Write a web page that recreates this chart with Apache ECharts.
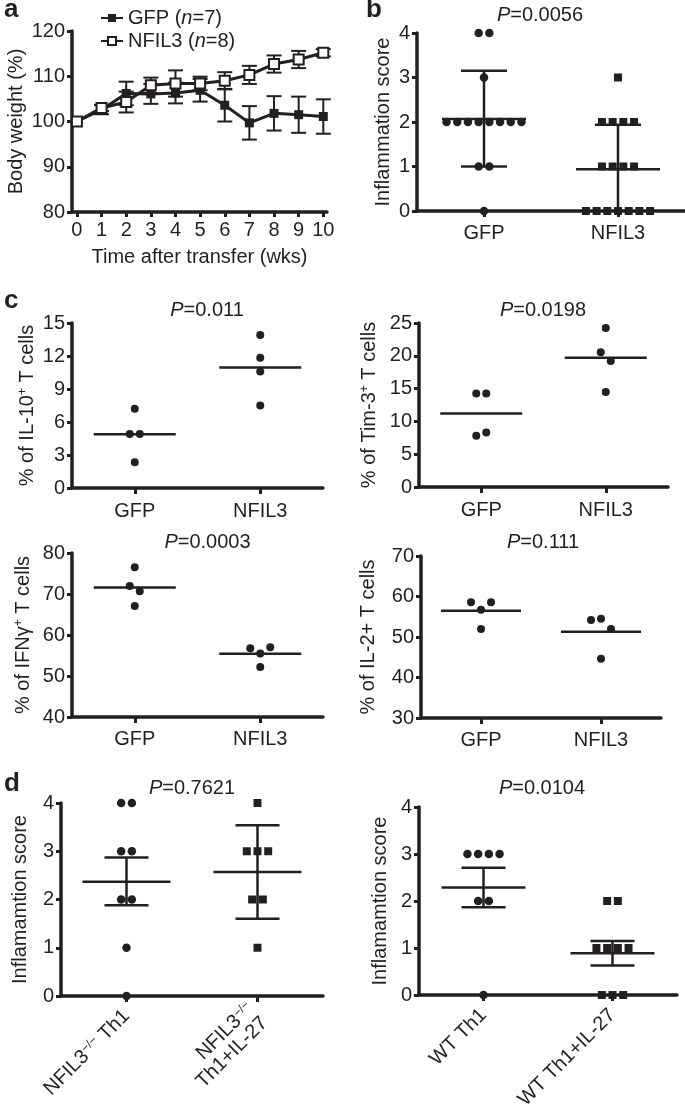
<!DOCTYPE html>
<html><head><meta charset="utf-8">
<script src="https://cdn.jsdelivr.net/npm/echarts@6/dist/echarts.min.js"></script>
<style>html,body{margin:0;padding:0;background:#fff}#c{width:685px;height:1112px}</style>
</head><body><div id="c"></div>
<script>
// ---------- data ----------
const weeks = [0,1,2,3,4,5,6,7,8,9,10];
const weekTicks = [0,1,2,3,4,5,6,7,8,9,10];
const gfpWeight = [100, 102.6, 106.2, 106.1, 106.3, 106.9, 103.6, 99.7, 101.8, 101.5, 101.1];
const gfpWeightErr = [0, 1.0, 2.6, 2.2, 2.3, 2.5, 3.6, 3.7, 3.8, 4.0, 3.8];
const nfil3Weight = [100, 103.0, 104.3, 108.0, 108.4, 108.4, 109.0, 110.3, 112.7, 113.7, 115.2];
const nfil3WeightErr = [0, 0.7, 2.3, 1.7, 2.9, 1.5, 1.9, 2.0, 1.9, 1.9, 0.8];
const legendLabels = {GFP: ['GFP (', '=7)'], NFIL3: ['NFIL3 (', '=8)']};

const groupCats = ['GFP', 'NFIL3'];
const bGfp = [4,4,3,2,2,2,2,2,2,2,2,1,1,0];
const bNfil3 = [3,2,2,2,2,1,1,1,1,0,0,0,0,0,0,0];
const bMean = [2.07, 0.94];
const bLow = [1.0, 0];
const bHigh = [3.15, 1.94];

const il10Gfp = [7.2, 4.9, 4.9, 2.35];
const il10Nfil3 = [13.9, 11.85, 10.6, 7.5];
const il10Mean = [4.88, 10.95];

const tim3Gfp = [14.25, 14.25, 7.8, 8.3];
const tim3Nfil3 = [24.25, 20.55, 19.2, 14.5];
const tim3Mean = [11.2, 19.7];

const ifngGfp = [76.5, 71.95, 70.65, 67.1];
const ifngNfil3 = [56.75, 55.5, 57.0, 52.2];
const ifngMean = [71.6, 55.4];

const il2Gfp = [58.6, 56.7, 58.6, 52.0];
const il2Nfil3 = [54.2, 54.5, 52.0, 44.6];
const il2Mean = [56.5, 51.3];

const dLeftCats = ['{t|NFIL3}{s|−/−}{t| Th1}', '{t|NFIL3}{s|−/−}\n{t|Th1+IL-27}'];
const dLeftA = [4,4,3,3,2,2,1,0];
const dLeftB = [4,3,3,3,2,2,1];
const dLeftMean = [2.37, 2.57];
const dLeftLow = [1.88, 1.6];
const dLeftHigh = [2.87, 3.54];

const dRightCats = ['WT Th1', 'WT Th1+IL-27'];
const dRightA = [3,3,3,3,2,2,0];
const dRightB = [2,2,1,1,1,1,0,0,0];
const dRightMean = [2.29, 0.89];
const dRightLow = [1.87, 0.63];
const dRightHigh = [2.71, 1.15];

const pValues = ['0.0056', '0.011', '0.0198', '0.0003', '0.111', '0.7621', '0.0104'];

// ---------- style ----------
const INK = '#231f20';
const FONT = '"Liberation Sans", Arial, Helvetica, sans-serif';

function rich(fs) {
  return {
    t: {fontFamily: FONT, fontSize: fs, color: INK},
    i: {fontFamily: FONT, fontSize: fs, color: INK, fontStyle: 'italic'},
    s: {fontFamily: FONT, fontSize: Math.round(fs * 0.62), color: INK, verticalAlign: 'top'}
  };
}

function yAxis(gi, min, max, interval, name, gap, fs) {
  return {
    type: 'value', gridIndex: gi, min: min, max: max, interval: interval,
    name: name, nameLocation: 'middle', nameGap: gap, nameRotate: 90,
    nameTextStyle: {fontFamily: FONT, fontSize: fs, color: INK, rich: rich(fs)},
    axisLine: {show: true, onZero: false, lineStyle: {color: INK, width: 3.5}},
    axisTick: {show: true, length: 5, lineStyle: {color: INK, width: 3}},
    axisLabel: {fontFamily: FONT, fontSize: fs, color: INK, margin: 7},
    splitLine: {show: false}
  };
}
function catAxis(gi, cats, fs, margin, rotate) {
  return {
    type: 'category', gridIndex: gi, data: cats, boundaryGap: true,
    axisLine: {show: true, onZero: false, lineStyle: {color: INK, width: 3.5}},
    axisTick: {show: true, alignWithLabel: true, length: 6, lineStyle: {color: INK, width: 3}},
    axisLabel: {fontFamily: FONT, fontSize: fs, color: INK, margin: margin, rotate: rotate || 0,
      interval: 0, rich: rich(fs)},
    splitLine: {show: false}
  };
}

function swarm(vals, range, spacing) {
  const idx = vals.map((v, i) => i).sort((a, b) => vals[b] - vals[a]);
  const groups = [];
  let cur = [idx[0]];
  for (let k = 1; k < idx.length; k++) {
    if (Math.abs(vals[idx[k - 1]] - vals[idx[k]]) < 0.06 * range) cur.push(idx[k]);
    else { groups.push(cur); cur = [idx[k]]; }
  }
  groups.push(cur);
  const off = new Array(vals.length).fill(0);
  groups.forEach(g => {
    g.sort((a, b) => a - b);
    g.forEach((i, j) => { off[i] = (j - (g.length - 1) / 2) * spacing; });
  });
  return off;
}

function dots(gi, cat, vals, range, symbol, size, spacing) {
  const off = swarm(vals, range, spacing);
  return {
    type: 'scatter', xAxisIndex: gi, yAxisIndex: gi, symbol: symbol, symbolSize: size, z: 4,
    itemStyle: {color: INK, opacity: 1}, silent: true,
    data: vals.map((v, i) => ({value: [cat, v], symbolOffset: [off[i], 0]}))
  };
}

function summary(gi, means, lows, highs, meanHalf, capHalf) {
  return {
    type: 'custom', xAxisIndex: gi, yAxisIndex: gi, z: 3, silent: true,
    encode: {x: 0, y: 1},
    data: means.map((m, i) => [i, m, lows ? lows[i] : m, highs ? highs[i] : m]),
    renderItem: function (params, api) {
      const c = api.coord([api.value(0), api.value(1)]);
      const lo = api.coord([api.value(0), api.value(2)]);
      const hi = api.coord([api.value(0), api.value(3)]);
      const st = {stroke: INK, lineWidth: 2.5};
      const ch = [{type: 'line', shape: {x1: c[0] - meanHalf, y1: c[1], x2: c[0] + meanHalf, y2: c[1]}, style: st}];
      if (lows) {
        ch.push({type: 'line', shape: {x1: c[0], y1: lo[1], x2: c[0], y2: hi[1]}, style: st});
        ch.push({type: 'line', shape: {x1: c[0] - capHalf, y1: hi[1], x2: c[0] + capHalf, y2: hi[1]}, style: st});
        if (api.value(2) > 0)
          ch.push({type: 'line', shape: {x1: c[0] - capHalf, y1: lo[1], x2: c[0] + capHalf, y2: lo[1]}, style: st});
      }
      return {type: 'group', children: ch};
    }
  };
}

function errBars(means, errs) {
  return {
    type: 'custom', xAxisIndex: 0, yAxisIndex: 0, z: 1, silent: true,
    encode: {x: 0, y: 1},
    data: weeks.map((w, i) => [w, means[i], errs[i]]),
    renderItem: function (params, api) {
      if (api.value(2) <= 0) return {type: 'group', children: []};
      const top = api.coord([api.value(0), api.value(1) + api.value(2)]);
      const bot = api.coord([api.value(0), api.value(1) - api.value(2)]);
      const st = {stroke: INK, lineWidth: 2};
      const h = 7.5;
      return {type: 'group', children: [
        {type: 'line', shape: {x1: top[0], y1: top[1], x2: bot[0], y2: bot[1]}, style: st},
        {type: 'line', shape: {x1: top[0] - h, y1: top[1], x2: top[0] + h, y2: top[1]}, style: st},
        {type: 'line', shape: {x1: bot[0] - h, y1: bot[1], x2: bot[0] + h, y2: bot[1]}, style: st}
      ]};
    }
  };
}

function label(txt, x, y) {
  return {type: 'text', x: x, y: y, silent: true,
    style: {text: txt, fontFamily: FONT, fontSize: 26, fontWeight: 'bold', fill: INK, align: 'left', verticalAlign: 'middle'}};
}
function ptext(p, x, y, fs) {
  return {type: 'text', x: x, y: y, silent: true,
    style: {text: '{i|P}{t|=' + p + '}', fontFamily: FONT, fontSize: fs, fill: INK, align: 'center', verticalAlign: 'middle', rich: rich(fs)}};
}

const chart = echarts.init(document.getElementById('c'), null, {renderer: 'canvas'});
const FS = 20;

chart.setOption({
  animation: false,
  backgroundColor: '#fff',
  grid: [
    {left: 72, top: 31, width: 255, height: 181},
    {left: 417, top: 33, width: 268, height: 178},
    {left: 72, top: 323, width: 251, height: 165},
    {left: 419, top: 323, width: 249, height: 164},
    {left: 72, top: 553, width: 251, height: 164},
    {left: 421, top: 556, width: 240, height: 162},
    {left: 61, top: 803, width: 262, height: 193},
    {left: 419, top: 807, width: 258, height: 189}
  ],
  legend: {
    orient: 'vertical', left: 95, top: 3, itemGap: 3, itemWidth: 22, itemHeight: 10,
    data: ['GFP', 'NFIL3'],
    formatter: n => '{t|' + legendLabels[n][0] + '}{i|n}{t|' + legendLabels[n][1] + '}',
    textStyle: {fontFamily: FONT, fontSize: FS, color: INK, rich: rich(FS)}
  },
  xAxis: [
    {type: 'value', gridIndex: 0, min: -0.2, max: 10.15,
      name: 'Time after transfer (wks)', nameLocation: 'middle', nameGap: 35,
      nameTextStyle: {fontFamily: FONT, fontSize: FS, color: INK},
      axisLine: {show: true, onZero: false, lineStyle: {color: INK, width: 3.5}},
      axisTick: {show: true, length: 5, customValues: weekTicks, lineStyle: {color: INK, width: 3}},
      axisLabel: {fontFamily: FONT, fontSize: FS, color: INK, margin: 8, customValues: weekTicks},
      splitLine: {show: false}},
    catAxis(1, groupCats, FS, 12),
    catAxis(2, groupCats, FS, 13),
    catAxis(3, groupCats, FS, 13),
    catAxis(4, groupCats, FS, 12),
    catAxis(5, groupCats, FS, 12),
    catAxis(6, dLeftCats, FS, 17, 45),
    catAxis(7, dRightCats, FS, 17, 45)
  ],
  yAxis: [
    yAxis(0, 80, 120, 10, 'Body weight (%)', 46, FS),
    yAxis(1, 0, 4, 1, 'Inflammation score', 24, FS),
    yAxis(2, 0, 15, 3, '{t|% of IL-10}{s|+}{t| T cells}', 35, FS),
    yAxis(3, 0, 25, 5, '{t|% of Tim-3}{s|+}{t| T cells}', 40, FS),
    yAxis(4, 40, 80, 10, '{t|% of IFNγ}{s|+}{t| T cells}', 39, FS),
    yAxis(5, 30, 70, 10, '% of IL-2+ T cells', 43, FS),
    yAxis(6, 0, 4, 1, 'Inflamamtion score', 31, FS),
    yAxis(7, 0, 4, 1, 'Inflamamtion score', 29, FS)
  ],
  series: [
    errBars(gfpWeight, gfpWeightErr),
    errBars(nfil3Weight, nfil3WeightErr),
    {name: 'GFP', type: 'line', xAxisIndex: 0, yAxisIndex: 0, z: 2,
      data: weeks.map((w, i) => [w, gfpWeight[i]]),
      symbol: 'rect', symbolSize: 9, showSymbol: true,
      itemStyle: {color: INK}, lineStyle: {color: INK, width: 3}},
    {name: 'NFIL3', type: 'line', xAxisIndex: 0, yAxisIndex: 0, z: 3,
      data: weeks.map((w, i) => [w, nfil3Weight[i]]),
      symbol: 'rect', symbolSize: 10, showSymbol: true,
      itemStyle: {color: '#fff', borderColor: INK, borderWidth: 2}, lineStyle: {color: INK, width: 3}},

    summary(1, bMean, bLow, bHigh, 42, 23),
    dots(1, 0, bGfp, 4, 'circle', 8.5, 10.7),
    dots(1, 1, bNfil3, 4, 'rect', 8, 10.7),

    summary(2, il10Mean, null, null, 41),
    dots(2, 0, il10Gfp, 15, 'circle', 8, 10),
    dots(2, 1, il10Nfil3, 15, 'circle', 8, 10),

    summary(3, tim3Mean, null, null, 41),
    dots(3, 0, tim3Gfp, 25, 'circle', 8, 10),
    dots(3, 1, tim3Nfil3, 25, 'circle', 8, 10),

    summary(4, ifngMean, null, null, 41),
    dots(4, 0, ifngGfp, 40, 'circle', 8, 10),
    dots(4, 1, ifngNfil3, 40, 'circle', 8, 10),

    summary(5, il2Mean, null, null, 40),
    dots(5, 0, il2Gfp, 40, 'circle', 8, 10),
    dots(5, 1, il2Nfil3, 40, 'circle', 8, 10),

    summary(6, dLeftMean, dLeftLow, dLeftHigh, 44, 22),
    dots(6, 0, dLeftA, 4, 'circle', 8.5, 10.7),
    dots(6, 1, dLeftB, 4, 'rect', 8, 10.7),

    summary(7, dRightMean, dRightLow, dRightHigh, 42, 22),
    dots(7, 0, dRightA, 4, 'circle', 8.5, 10.7),
    dots(7, 1, dRightB, 4, 'rect', 8, 10.7)
  ],
  graphic: [
    label('a', 4, 9.6), label('b', 366, 9.6), label('c', 4, 300.6), label('d', 4, 783.6),
    ptext(pValues[0], 540, 15, FS),
    ptext(pValues[1], 207, 310, FS),
    ptext(pValues[2], 543, 310.5, FS),
    ptext(pValues[3], 207.5, 542, FS),
    ptext(pValues[4], 543, 542, FS),
    ptext(pValues[5], 192, 788, FS),
    ptext(pValues[6], 542, 788, FS)
  ]
});
</script></body></html>
